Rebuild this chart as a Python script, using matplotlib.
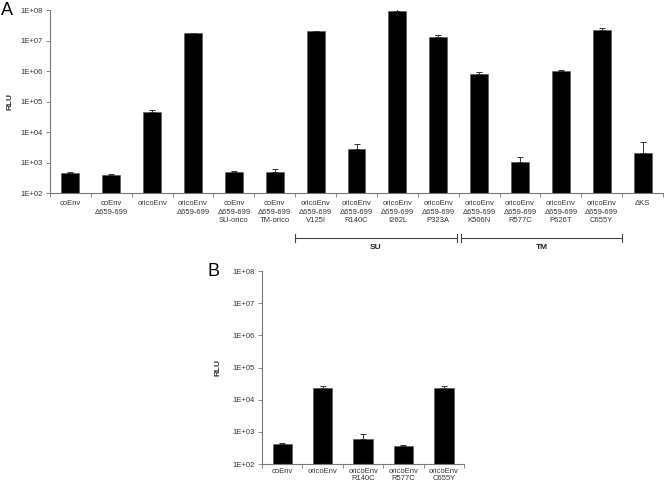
import matplotlib
matplotlib.use("Agg")
import matplotlib.pyplot as plt
import matplotlib.transforms as mtransforms
import numpy as np

plt.rcParams['font.family'] = ['Liberation Sans', 'DejaVu Sans']

# panel A data
labels_a = ["coEnv", "coEnv\nΔ659-699", "oricoEnv", "oricoEnv\nΔ659-699",
            "coEnv\nΔ659-699\nSU-orico", "coEnv\nΔ659-699\nTM-orico",
            "oricoEnv\nΔ659-699\nV125I", "oricoEnv\nΔ659-699\nR140C",
            "oricoEnv\nΔ659-699\nI262L", "oricoEnv\nΔ659-699\nP323A",
            "oricoEnv\nΔ659-699\nK506N", "oricoEnv\nΔ659-699\nR577C",
            "oricoEnv\nΔ659-699\nP626T", "oricoEnv\nΔ659-699\nC655Y", "ΔKS"]
rlu_a = [460, 390, 45000, 1.8e7, 475, 500, 2.0e7, 2800, 9.7e7, 1.33e7,
         8.3e5, 1050, 9.8e5, 2.3e7, 2100]
err_a = [25, 30, 9000, 3e5, 40, 100, 8e5, 1200, 8e6, 2e6,
         7e4, 450, 1.3e5, 2e6, 2600]

# panel B data
labels_b = ["coEnv", "oricoEnv", "oricoEnv\nR140C", "oricoEnv\nR577C", "oricoEnv\nC655Y"]
rlu_b = [410, 23500, 610, 370, 22500]
err_b = [30, 2500, 230, 15, 3500]

groups = ["SU", "TM"]
group_span = [(5.5, 9.45), (9.55, 13.5)]

yticks = [1e2, 1e3, 1e4, 1e5, 1e6, 1e7, 1e8]
ytick_labels = ["1E+02", "1E+03", "1E+04", "1E+05", "1E+06", "1E+07", "1E+08"]

fig = plt.figure(figsize=(6.64, 4.83), dpi=100)
axB = fig.add_axes([0.3946, 0.0393, 0.3044, 0.3996])
axA = fig.add_axes([0.0753, 0.6004, 0.9232, 0.3786])


def style(ax, labels, vals, errs, width, pad, ls):
    n = len(labels)
    x = np.arange(n)
    ax.patch.set_visible(False)
    ax.bar(x, vals, width=width, color='black', edgecolor='#555555', linewidth=0.4,
           yerr=[np.zeros(n), errs], capsize=2.5,
           error_kw=dict(elinewidth=0.7, capthick=0.7, ecolor='#333333'))
    ax.set_yscale('log')
    ax.set_ylim(1e2, 1e8)
    ax.set_xlim(-0.5, n - 0.5)
    ax.set_yticks(yticks)
    ax.set_yticklabels(ytick_labels)
    ax.yaxis.set_minor_locator(matplotlib.ticker.NullLocator())
    ax.set_xticks(np.arange(n + 1) - 0.5)
    ax.set_xticklabels([])
    ax.set_xticks(x, minor=True)
    ax.set_xticklabels(labels, minor=True, fontsize=5.5, color='#333333', linespacing=ls)
    ax.tick_params(axis='x', which='minor', length=0, pad=pad)
    ax.tick_params(axis='x', which='major', length=3, width=0.6, color='#777777')
    ax.tick_params(axis='y', length=3, width=0.6, color='#777777', labelsize=5.5,
                   labelcolor='#333333', pad=2)
    for s in ['top', 'right']:
        ax.spines[s].set_visible(False)
    for s in ['left', 'bottom']:
        ax.spines[s].set_color('#777777')
        ax.spines[s].set_linewidth(0.8)
    ax.set_ylabel("RLU", fontsize=6, fontweight='bold', color='#333333')


style(axA, labels_a, rlu_a, err_a, 0.44, 5, 1.35)
style(axB, labels_b, rlu_b, err_b, 0.48, 3, 1.0)
axA.yaxis.set_label_coords(-0.06, 0.5)
axB.yaxis.set_label_coords(-0.2, 0.5)

# SU / TM brackets under panel A
trans = mtransforms.blended_transform_factory(axA.transData, axA.transAxes)
yb = -0.246
for name, (x0, x1) in zip(groups, group_span):
    axA.plot([x0, x1], [yb, yb], color='#444444', lw=0.8, transform=trans, clip_on=False)
    for xe in (x0, x1):
        axA.plot([xe, xe], [yb - 0.02, yb + 0.02], color='#444444', lw=0.8,
                 transform=trans, clip_on=False)
    axA.text((x0 + x1) / 2, yb - 0.035, name, transform=trans, ha='center', va='top',
             fontsize=6, fontweight='bold', color='#222222')

fig.text(0.002, 0.995, "A", fontsize=13, va='top', ha='left')
fig.text(0.313, 0.455, "B", fontsize=13, va='top', ha='left')

fig.savefig("out.png", dpi=100)
